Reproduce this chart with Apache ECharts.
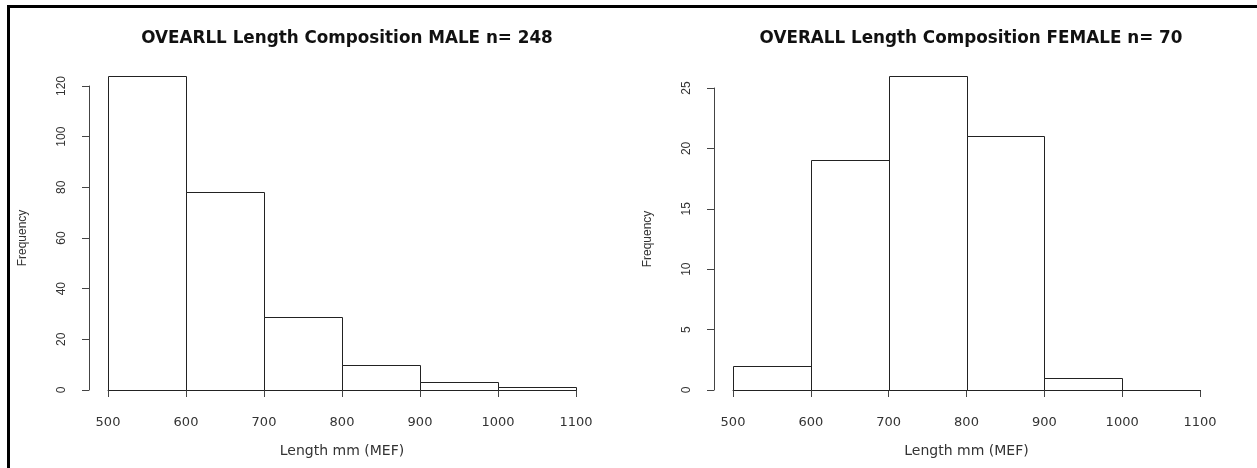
<!DOCTYPE html>
<html>
<head>
<meta charset="utf-8">
<script src="https://cdn.jsdelivr.net/npm/echarts@6/dist/echarts.min.js"></script>
<style>
  html, body { margin: 0; padding: 0; background: #fff; }
  #chart { width: 1257px; height: 468px; }
</style>
</head>
<body>
<div id="chart"></div>
<script>
// bins are [start, end, count]
const binStarts = [500, 600, 700, 800, 900, 1000];
const binEnds = [600, 700, 800, 900, 1000, 1100];
const maleCounts = [124, 78, 29, 10, 3, 1];
const femaleCounts = [2, 19, 26, 21, 1, 0];

const xTicks = [500, 600, 700, 800, 900, 1000, 1100];
const maleYTicks = [0, 20, 40, 60, 80, 100, 120];
const femaleYTicks = [0, 5, 10, 15, 20, 25];

const maleTitle = 'OVEARLL Length Composition MALE n= 248';
const femaleTitle = 'OVERALL Length Composition FEMALE n= 70';

const axisColor = '#444';
const labelColor = '#333';
// the screenshot is stretched sideways, so horizontal text uses a wider face
const wideFont = '"DejaVu Sans", sans-serif';
const narrowFont = '"Liberation Sans", Arial, sans-serif';

const toBins = counts => binStarts.map((s, i) => [s, binEnds[i], counts[i]]);

const renderBar = (params, api) => {
  const top = api.coord([api.value(0), api.value(2)]);
  const base = api.coord([api.value(1), 0]);
  return {
    type: 'rect',
    shape: {
      x: Math.round(top[0]) + 0.5,
      y: Math.round(top[1]) + 0.5,
      width: Math.round(base[0]) - Math.round(top[0]),
      height: Math.round(base[1]) - Math.round(top[1])
    },
    style: { fill: '#fff', stroke: '#222', lineWidth: 1 }
  };
};

const xAxisFor = (gridIndex) => ({
  type: 'value',
  gridIndex: gridIndex,
  min: xTicks[0],
  max: xTicks[xTicks.length - 1],
  interval: 100,
  offset: 13,
  name: 'Length mm (MEF)',
  nameLocation: 'middle',
  nameGap: 41,
  nameTextStyle: { color: labelColor, fontSize: 14, fontFamily: wideFont },
  axisLine: { show: true, lineStyle: { color: axisColor, width: 1 } },
  axisTick: { show: true, length: 7, lineStyle: { color: axisColor } },
  axisLabel: {
    color: labelColor, fontSize: 13, margin: 13, fontFamily: wideFont,
    formatter: v => String(v)
  },
  splitLine: { show: false }
});

const yAxisFor = (gridIndex, ticks) => ({
  type: 'value',
  gridIndex: gridIndex,
  min: ticks[0],
  max: ticks[ticks.length - 1],
  interval: ticks[1] - ticks[0],
  offset: 19,
  name: 'Frequency',
  nameLocation: 'middle',
  nameGap: 60,
  nameRotate: 90,
  nameTextStyle: { color: labelColor, fontSize: 12, fontFamily: narrowFont },
  axisLine: { show: true, lineStyle: { color: axisColor, width: 1 } },
  axisTick: { show: true, length: 7, lineStyle: { color: axisColor } },
  axisLabel: { color: labelColor, fontSize: 12, rotate: 90, margin: 21, fontFamily: narrowFont },
  splitLine: { show: false }
});

const chart = echarts.init(document.getElementById('chart'));

const titleStyle = { fontSize: 16.8, fontWeight: 'bold', color: '#111', fontFamily: wideFont };

const option = {
  animation: false,
  backgroundColor: '#fff',
  title: [
    { text: maleTitle, left: 342, top: 25, textAlign: 'center', textStyle: titleStyle },
    { text: femaleTitle, left: 966, top: 25, textAlign: 'center', textStyle: titleStyle }
  ],
  grid: [
    { left: 108, right: 681, top: 86, bottom: 78 },
    { left: 733, right: 57, top: 88, bottom: 78 }
  ],
  xAxis: [xAxisFor(0), xAxisFor(1)],
  yAxis: [yAxisFor(0, maleYTicks), yAxisFor(1, femaleYTicks)],
  series: [
    {
      type: 'custom',
      xAxisIndex: 0,
      yAxisIndex: 0,
      clip: false,
      renderItem: renderBar,
      encode: { x: [0, 1], y: 2 },
      data: toBins(maleCounts)
    },
    {
      type: 'custom',
      xAxisIndex: 1,
      yAxisIndex: 1,
      clip: false,
      renderItem: renderBar,
      encode: { x: [0, 1], y: 2 },
      data: toBins(femaleCounts)
    }
  ],
  // frame lines of the original screenshot
  graphic: [
    { type: 'line', shape: { x1: 8.5, y1: 5, x2: 8.5, y2: 468 }, style: { stroke: '#000', lineWidth: 3 } },
    { type: 'line', shape: { x1: 7, y1: 6.5, x2: 1257, y2: 6.5 }, style: { stroke: '#000', lineWidth: 3 } }
  ]
};

chart.setOption(option);
</script>
</body>
</html>
